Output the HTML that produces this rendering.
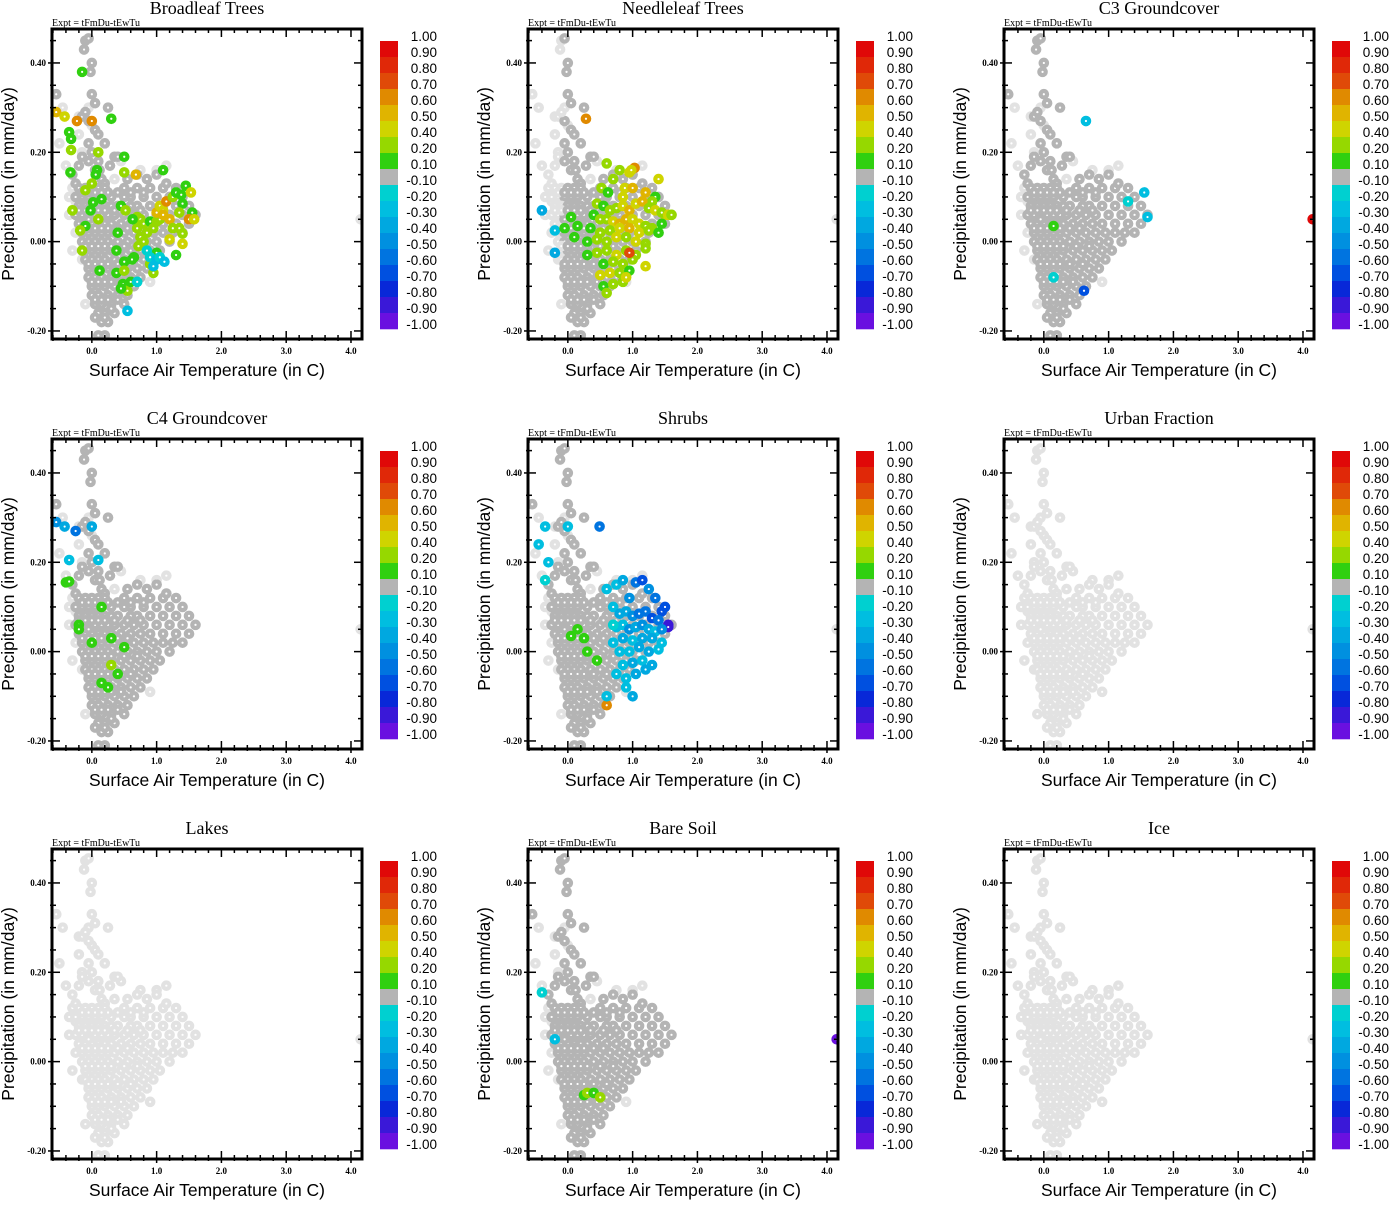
<!DOCTYPE html>
<html><head><meta charset="utf-8"><style>
html,body{margin:0;padding:0;background:#fff;}
svg text{font-family:"Liberation Sans",sans-serif;}
.serif{font-family:"Liberation Serif",serif;}
</style></head><body>
<svg id="fig" width="1389" height="1200" viewBox="0 0 1389 1200" xmlns="http://www.w3.org/2000/svg"></svg>
<script>
// ---- shared data ----
const panelTitles = ["Broadleaf Trees","Needleleaf Trees","C3 Groundcover","C4 Groundcover","Shrubs","Urban Fraction","Lakes","Bare Soil","Ice"];
const xTicks = [0,1,2,3,4];
const xTickLabels = ["0.0","1.0","2.0","3.0","4.0"];
const yTicks = [-0.2,0,0.2,0.4];
const yTickLabels = ["-0.20","0.00","0.20","0.40"];
const cbLabels = ["1.00","0.90","0.80","0.70","0.60","0.50","0.40","0.20","0.10","-0.10","-0.20","-0.30","-0.40","-0.50","-0.60","-0.70","-0.80","-0.90","-1.00"];
const cbBounds = [1.0,0.9,0.8,0.7,0.6,0.5,0.4,0.2,0.1,-0.1,-0.2,-0.3,-0.4,-0.5,-0.6,-0.7,-0.8,-0.9,-1.0];
const cbColors = ["#e00808","#e02808","#e04a08","#e08a00","#e0b400","#cfd400","#96d800","#30d010","#b4b4b4","#00d0d0","#00bee0","#00a8e0","#0090e0","#0074e0","#0050e0","#0828d8","#3a18d8","#6a10e0"];

// light-gray background points (shown in every panel)
const lightX = [-0.55,-0.45,-0.5,-0.4,-0.3,-0.35,-0.2,-0.25,-0.15,-0.05,-0.3,-0.2,0.35,0.45,0.75,1.0,1.15,-0.25,-0.35,-0.1,0.9,4.15,-0.05,0.0,-0.15];
const lightY = [0.33,0.30,0.22,0.17,0.12,0.06,0.28,0.02,-0.04,-0.08,-0.02,0.24,0.14,0.18,0.16,0.16,0.17,0.09,0.10,-0.14,-0.09,0.05,0.30,0.26,0.20];

// main point cloud
const cloudX = [-0.1,-0.05,-0.12,0.0,-0.02,0.0,-0.55,0.05,0.25,-0.15,-0.05,-0.1,0.05,0.1,0.2,-0.05,0.0,-0.15,-0.05,0.1,0.35,-0.2,0.05,0.15,-0.3,-0.25,0.2,0.4,
-0.2,-0.1,0,0.1,0.2,0.5,0.7,0.9,1.1,
-0.25,-0.15,-0.05,0.05,0.15,0.3,0.5,0.6,0.8,1.0,1.2,1.4,
-0.2,-0.1,0,0.1,0.2,0.3,0.4,0.6,0.7,0.9,1.1,1.3,1.5,
-0.25,-0.15,-0.05,0.05,0.15,0.25,0.35,0.5,0.65,0.8,1.0,1.2,1.4,1.6,
-0.2,-0.1,0,0.1,0.2,0.3,0.45,0.6,0.75,0.9,1.1,1.3,1.5,
-0.15,-0.05,0.05,0.15,0.25,0.35,0.5,0.65,0.8,0.95,1.1,1.25,1.4,
-0.15,-0.05,0.05,0.15,0.25,0.4,0.55,0.7,0.85,1.0,1.2,
-0.1,0,0.1,0.2,0.3,0.45,0.6,0.75,0.9,1.05,
-0.1,0,0.1,0.2,0.35,0.5,0.65,0.8,0.95,
-0.05,0.05,0.15,0.25,0.4,0.55,0.7,0.85,
-0.05,0.05,0.15,0.3,0.45,0.6,0.75,
0,0.1,0.2,0.35,0.5,0.65,
0,0.1,0.25,0.4,0.55,
0.05,0.15,0.3,0.5,
0.1,0.2,0.35,
0.15,0.25,
0.1,0.2,
0.55,0.7,0.85,1.0,1.15,1.3,0.0,0.1,-0.05,0.2,
-0.15,-0.05,0.05,0.15,0.25,0.4,0.6,0.8,
-0.2,-0.1,0,0.1,0.2,0.35,0.55,0.75,
-0.15,-0.05,0.05,0.15,0.25,0.4,0.55,
-0.1,0,0.1,0.2,0.3,0.5,0.7,
-0.05,0.05,0.15,0.25,0.4,0.6,
0,0.1,0.2,0.3,0.45,
0.05,0.15,0.25,0.4,
0.05,0.2,0.3,0.12,0.28];
const cloudY = [0.45,0.455,0.43,0.40,0.38,0.33,0.33,0.31,0.30,0.28,0.27,0.29,0.25,0.24,0.22,0.22,0.20,0.19,0.18,0.18,0.19,0.17,0.16,0.14,0.15,0.13,0.13,0.19,
0.12,0.12,0.12,0.12,0.12,0.12,0.12,0.12,0.12,
0.10,0.10,0.10,0.10,0.10,0.10,0.10,0.10,0.10,0.10,0.10,0.10,
0.08,0.08,0.08,0.08,0.08,0.08,0.08,0.08,0.08,0.08,0.08,0.08,0.08,
0.06,0.06,0.06,0.06,0.06,0.06,0.06,0.06,0.06,0.06,0.06,0.06,0.06,0.06,
0.04,0.04,0.04,0.04,0.04,0.04,0.04,0.04,0.04,0.04,0.04,0.04,0.04,
0.02,0.02,0.02,0.02,0.02,0.02,0.02,0.02,0.02,0.02,0.02,0.02,0.02,
0.0,0.0,0.0,0.0,0.0,0.0,0.0,0.0,0.0,0.0,0.0,
-0.02,-0.02,-0.02,-0.02,-0.02,-0.02,-0.02,-0.02,-0.02,-0.02,
-0.04,-0.04,-0.04,-0.04,-0.04,-0.04,-0.04,-0.04,-0.04,
-0.06,-0.06,-0.06,-0.06,-0.06,-0.06,-0.06,-0.06,
-0.08,-0.08,-0.08,-0.08,-0.08,-0.08,-0.08,
-0.10,-0.10,-0.10,-0.10,-0.10,-0.10,
-0.12,-0.12,-0.12,-0.12,-0.12,
-0.14,-0.14,-0.14,-0.14,
-0.16,-0.16,-0.16,
-0.18,-0.18,
-0.21,-0.21,
0.14,0.15,0.14,0.15,0.13,0.12,-0.01,0.03,0.05,0.07,
0.11,0.11,0.11,0.11,0.11,0.11,0.11,0.11,
0.07,0.07,0.07,0.07,0.07,0.07,0.07,0.07,
0.03,0.03,0.03,0.03,0.03,0.03,0.03,
-0.01,-0.01,-0.01,-0.01,-0.01,-0.01,-0.01,
-0.05,-0.05,-0.05,-0.05,-0.05,-0.05,
-0.09,-0.09,-0.09,-0.09,-0.09,
-0.13,-0.13,-0.13,-0.13,
-0.17,-0.17,-0.15,0.16,0.17];

// per-panel coloured points
const blX = [-0.55,-0.42,-0.23,0.0,-0.35,-0.32,-0.32,0.1,0.3,-0.15,0.5,-0.33,0.08,0.06,0.5,0.68,1.1,-0.3,-0.1,0.0,0.02,-0.02,0.15,0.1,-0.1,-0.18,-0.15,0.12,0.45,0.52,0.4,0.38,0.5,0.38,0.5,0.48,0.55,0.45,0.6,0.65,0.7,0.75,0.8,0.7,0.75,0.8,0.72,0.85,0.9,0.95,1.0,1.05,0.9,0.95,1.0,1.0,1.05,1.1,1.15,1.1,1.2,1.25,1.3,1.38,1.45,1.53,1.4,1.55,1.5,1.58,1.35,1.35,1.4,1.4,1.2,1.25,1.3,0.85,0.9,1.0,1.05,1.12,0.95,0.7,0.55,0.63,0.62];
const blY = [0.29,0.28,0.27,0.27,0.245,0.23,0.205,0.2,0.275,0.38,0.19,0.155,0.16,0.15,0.155,0.15,0.16,0.07,0.115,0.13,0.088,0.07,0.095,0.05,0.035,0.025,-0.02,-0.065,0.08,0.07,0.02,-0.02,-0.045,-0.07,-0.065,-0.095,-0.11,-0.105,-0.09,-0.035,0.055,0.05,0.04,0.03,0.01,0.0,-0.01,0.02,0.045,0.03,0.045,0.05,-0.05,-0.07,-0.025,0.065,0.08,0.07,0.09,0.06,0.05,0.1,0.11,0.105,0.125,0.11,0.085,0.065,0.05,0.05,0.065,0.03,0.018,-0.005,0.005,0.03,-0.03,-0.02,-0.035,-0.04,-0.035,-0.045,-0.055,-0.09,-0.155,0.05,-0.04];
const blV = [0.55,0.45,0.6,0.6,0.15,0.15,0.25,0.25,0.15,0.15,0.15,0.15,0.15,0.15,0.3,0.55,0.15,0.3,0.25,0.25,0.15,0.15,0.15,0.2,0.15,0.25,0.25,0.15,0.15,0.2,0.15,0.15,0.15,0.15,0.2,0.15,0.25,0.15,0.15,0.15,0.2,0.3,0.25,0.3,0.3,0.25,0.3,0.25,0.15,0.3,0.2,0.3,0.2,0.3,0.15,0.5,0.45,0.45,0.6,0.5,0.55,0.25,0.15,0.15,0.15,0.45,0.15,0.15,0.6,0.4,0.25,0.25,0.25,0.4,0.4,0.25,0.15,-0.2,-0.2,-0.25,-0.2,-0.3,-0.25,-0.2,-0.25,0.15,0.15];

const nlX = [-0.4,-0.2,-0.2,0.28,0.6,1.03,0.8,0.95,0.98,0.88,0.7,0.52,0.62,0.85,1.0,1.2,1.4,1.35,1.5,1.3,0.45,0.55,0.65,0.75,0.85,0.95,1.05,1.15,1.25,1.35,1.45,1.55,1.6,0.4,0.5,0.6,0.7,0.8,0.9,1.0,1.1,1.2,1.3,1.45,0.35,0.5,0.65,0.8,0.95,1.1,1.25,1.4,0.3,0.45,0.6,0.75,0.9,1.05,1.2,0.45,0.6,0.75,0.9,1.05,1.2,0.55,0.7,0.85,1.0,1.2,0.5,0.65,0.8,0.95,0.55,0.7,0.85,0.6,0.9,0.95,0.15,0.1,-0.05,0.05,0.3];
const nlY = [0.07,0.025,-0.025,0.275,0.175,0.165,0.16,0.155,0.16,0.12,0.14,0.12,0.11,0.1,0.12,0.11,0.14,0.10,0.06,0.09,0.085,0.08,0.07,0.075,0.08,0.07,0.085,0.09,0.075,0.07,0.065,0.06,0.06,0.06,0.05,0.05,0.045,0.04,0.05,0.05,0.04,0.035,0.03,0.04,0.03,0.02,0.025,0.03,0.03,0.02,0.025,0.02,0.0,0.005,0.0,0.01,0.01,0.0,-0.005,-0.025,-0.02,-0.03,-0.02,-0.03,-0.015,-0.05,-0.045,-0.05,-0.04,-0.055,-0.075,-0.07,-0.07,-0.065,-0.1,-0.095,-0.09,-0.115,-0.08,-0.025,0.035,0.01,0.03,0.055,-0.03];
const nlV = [-0.35,-0.3,-0.35,0.6,0.25,0.6,0.35,0.4,0.45,0.45,0.3,0.2,0.15,0.45,0.5,0.55,0.45,0.15,0.4,0.2,0.2,0.15,0.3,0.25,0.4,0.5,0.45,0.55,0.3,0.4,0.35,0.4,0.3,0.15,0.25,0.35,0.4,0.55,0.5,0.45,0.4,0.25,0.35,0.15,0.15,0.3,0.25,0.45,0.5,0.4,0.3,0.15,0.15,0.25,0.3,0.4,0.35,0.45,0.25,0.3,0.2,0.4,0.35,0.3,0.25,0.15,0.3,0.25,0.35,0.4,0.45,0.4,0.3,0.15,0.15,0.25,0.2,0.3,0.4,0.7,0.15,0.15,0.15,0.15,0.15];

const c3X = [0.65,1.55,1.6,1.3,0.62,0.15,0.15,4.15];
const c3Y = [0.27,0.11,0.055,0.09,-0.11,0.035,-0.08,0.05];
const c3V = [-0.25,-0.25,-0.25,-0.2,-0.7,0.15,-0.2,0.95];

const c4X = [-0.55,-0.42,-0.25,0.0,-0.35,0.1,-0.4,-0.35,-0.2,-0.2,0.15,0.3,0.0,0.3,0.15,0.25,0.5,0.4];
const c4Y = [0.29,0.28,0.27,0.28,0.205,0.205,0.155,0.157,0.06,0.05,0.1,0.03,0.02,-0.03,-0.07,-0.08,0.01,-0.05];
const c4V = [-0.5,-0.4,-0.6,-0.4,-0.3,-0.3,0.15,0.15,0.15,0.15,0.15,0.15,0.15,0.2,0.15,0.15,0.15,0.15];

const shX = [-0.35,0.0,0.49,-0.45,-0.3,-0.35,0.6,0.6,0.75,0.85,0.95,1.05,1.15,1.25,1.35,1.45,1.5,1.55,0.7,0.8,0.9,1.0,1.1,1.2,1.3,1.4,1.55,0.75,0.85,0.95,1.05,1.15,1.25,1.35,1.45,0.7,0.85,1.0,1.15,1.3,1.45,0.8,0.95,1.1,1.25,1.4,0.85,1.0,1.15,1.3,0.9,1.05,1.2,0.75,0.9,1.0,0.6,0.7,0.15,0.25,0.05,0.45,0.3];
const shY = [0.28,0.28,0.28,0.24,0.20,0.16,-0.12,0.14,0.15,0.16,0.12,0.155,0.16,0.14,0.12,0.09,0.1,0.06,0.1,0.085,0.09,0.08,0.085,0.09,0.075,0.07,0.055,0.055,0.06,0.05,0.055,0.06,0.05,0.045,0.05,0.02,0.03,0.025,0.03,0.03,0.02,0.0,0.0,0.01,0.0,0.005,-0.03,-0.025,-0.02,-0.03,-0.06,-0.05,-0.04,-0.05,-0.08,-0.1,-0.1,0.06,0.05,0.03,0.035,-0.02,0.0];
const shV = [-0.3,-0.25,-0.6,-0.3,-0.25,-0.2,0.6,-0.3,-0.3,-0.4,-0.5,-0.6,-0.7,-0.5,-0.6,-0.7,-0.65,-0.85,-0.3,-0.4,-0.35,-0.5,-0.6,-0.55,-0.7,-0.6,-0.9,-0.3,-0.3,-0.45,-0.35,-0.5,-0.4,-0.3,-0.45,-0.25,-0.35,-0.3,-0.4,-0.35,-0.3,-0.25,-0.3,-0.35,-0.4,-0.3,-0.3,-0.35,-0.3,-0.35,-0.3,-0.35,-0.4,-0.25,-0.3,-0.35,-0.3,-0.2,0.15,0.15,0.15,0.15,0.15];

const bsX = [-0.4,-0.2,0.25,0.3,0.4,0.5,4.15];
const bsY = [0.155,0.05,-0.075,-0.07,-0.07,-0.08,0.05];
const bsV = [-0.2,-0.25,0.15,0.2,0.15,0.3,-0.95];

const panelX = [blX,nlX,c3X,c4X,shX,[],[],bsX,[]];
const panelY = [blY,nlY,c3Y,c4Y,shY,[],[],bsY,[]];
const panelV = [blV,nlV,c3V,c4V,shV,[],[],bsV,[]];
const panelHasData = [true,true,true,true,true,false,false,true,false];

// ---- drawing ----
const NS = "http://www.w3.org/2000/svg";
const svg = document.getElementById("fig");
function mk(tag, attrs, parent){ const e=document.createElementNS(NS,tag); for(const k in attrs) e.setAttribute(k,attrs[k]); (parent||svg).appendChild(e); return e; }
function colorFor(v){ for(let i=0;i<cbColors.length;i++){ if(v<=cbBounds[i] && v>=cbBounds[i+1]) return cbColors[i]; } return v>0?cbColors[0]:cbColors[cbColors.length-1]; }

const L=52,R=362,T=29,B=339, XMIN=-0.615, XMAX=4.17, YMIN=-0.218, YMAX=0.476;
const sx = v => L + (v-XMIN)/(XMAX-XMIN)*(R-L);
const sy = v => B - (v-YMIN)/(YMAX-YMIN)*(B-T);

function dot(g,x,y,fill){
  const c = mk("circle",{cx:sx(x),cy:sy(y),r:5.3,fill:fill},g);
  
  
  mk("circle",{cx:sx(x),cy:sy(y),r:1.1,fill:"#fff"},g);
}

for(let p=0;p<9;p++){
  const ox=(p%3)*476, oy=Math.floor(p/3)*410;
  const g = mk("g",{transform:`translate(${ox},${oy})`});
  
  
  const t = mk("text",{x:207,y:14,"text-anchor":"middle","font-size":"18",class:"serif"},g);
  t.textContent=panelTitles[p];
  
  
  const ex = mk("text",{x:52,y:26,"font-size":"10",class:"serif"},g);
  ex.textContent="Expt = tFmDu-tEwTu";
  
  
  mk("clipPath",{id:"cp"+p},g);
  mk("rect",{x:L,y:T,width:R-L,height:B-T},g.lastChild);
  const pg = mk("g",{"clip-path":`url(#cp${p})`},g);
  
  
  for(let i=0;i<lightX.length;i++) dot(pg,lightX[i],lightY[i],"#e2e2e2");
  const cc = panelHasData[p] ? "#b4b4b4" : "#e2e2e2";
  for(let i=0;i<cloudX.length;i++){
    let col=cc;
    if(p===1 && cloudX[i]<-0.05) col="#e2e2e2";
    dot(pg,cloudX[i],cloudY[i],col);
  }
  const PX=panelX[p],PY=panelY[p],PV=panelV[p];
  for(let i=0;i<PX.length;i++) dot(pg,PX[i],PY[i],colorFor(PV[i]));
  const fr = mk("rect",{x:L,y:T,width:R-L,height:B-T,fill:"none",stroke:"#000","stroke-width":3},g);
  
  
  for(let v=-0.6;v<=4.15;v+=0.2){
    const X=sx(v); const major=Math.abs(v-Math.round(v))<1e-6;
    const len=major?8:4;
    mk("line",{x1:X,y1:B,x2:X,y2:B-len,stroke:"#000","stroke-width":1.5},g);
    mk("line",{x1:X,y1:T,x2:X,y2:T+len,stroke:"#000","stroke-width":1.5},g);
    mk("line",{x1:X,y1:B,x2:X,y2:B+(major?4:2),stroke:"#000","stroke-width":1.5},g);
  }
  xTicks.forEach((v,i)=>{
    const tx=mk("text",{x:sx(v),y:354,"text-anchor":"middle","font-size":"9","font-weight":"bold",class:"serif"},g);
    tx.textContent=xTickLabels[i];
    
    
  });
  for(let k=-4;k<=9;k++){
    const v=k*0.05; if(v<YMIN||v>YMAX) continue;
    const Y=sy(v); const major=(k%4===0);
    const len=major?8:4;
    mk("line",{x1:L,y1:Y,x2:L+len,y2:Y,stroke:"#000","stroke-width":1.5},g);
    mk("line",{x1:R,y1:Y,x2:R-len,y2:Y,stroke:"#000","stroke-width":1.5},g);
    mk("line",{x1:L,y1:Y,x2:L-(major?4:2),y2:Y,stroke:"#000","stroke-width":1.5},g);
  }
  yTicks.forEach((v,i)=>{
    const ty=mk("text",{x:46,y:sy(v)+3,"text-anchor":"end","font-size":"9","font-weight":"bold",class:"serif"},g);
    ty.textContent=yTickLabels[i];
    
    
  });
  const xl=mk("text",{x:207,y:376,"text-anchor":"middle","font-size":"17.5"},g);
  xl.textContent="Surface Air Temperature (in C)";
  
  
  const yl=mk("text",{x:0,y:0,"text-anchor":"middle","font-size":"17.5",transform:"translate(14,184) rotate(-90)"},g);
  yl.textContent="Precipitation (in mm/day)";
  
  
  const cb = mk("g",{},g);
  
  
  cbColors.forEach((c,i)=>{
    const r=mk("rect",{x:380,y:41+i*16,width:18,height:16.3,fill:c},cb);
    
    
  });
  cbLabels.forEach((s,i)=>{
    const lt=mk("text",{x:437,y:41+i*16,"text-anchor":"end","font-size":"13.5"},cb);
    lt.textContent=s;
    
    
  });
}
</script>
</body></html>
